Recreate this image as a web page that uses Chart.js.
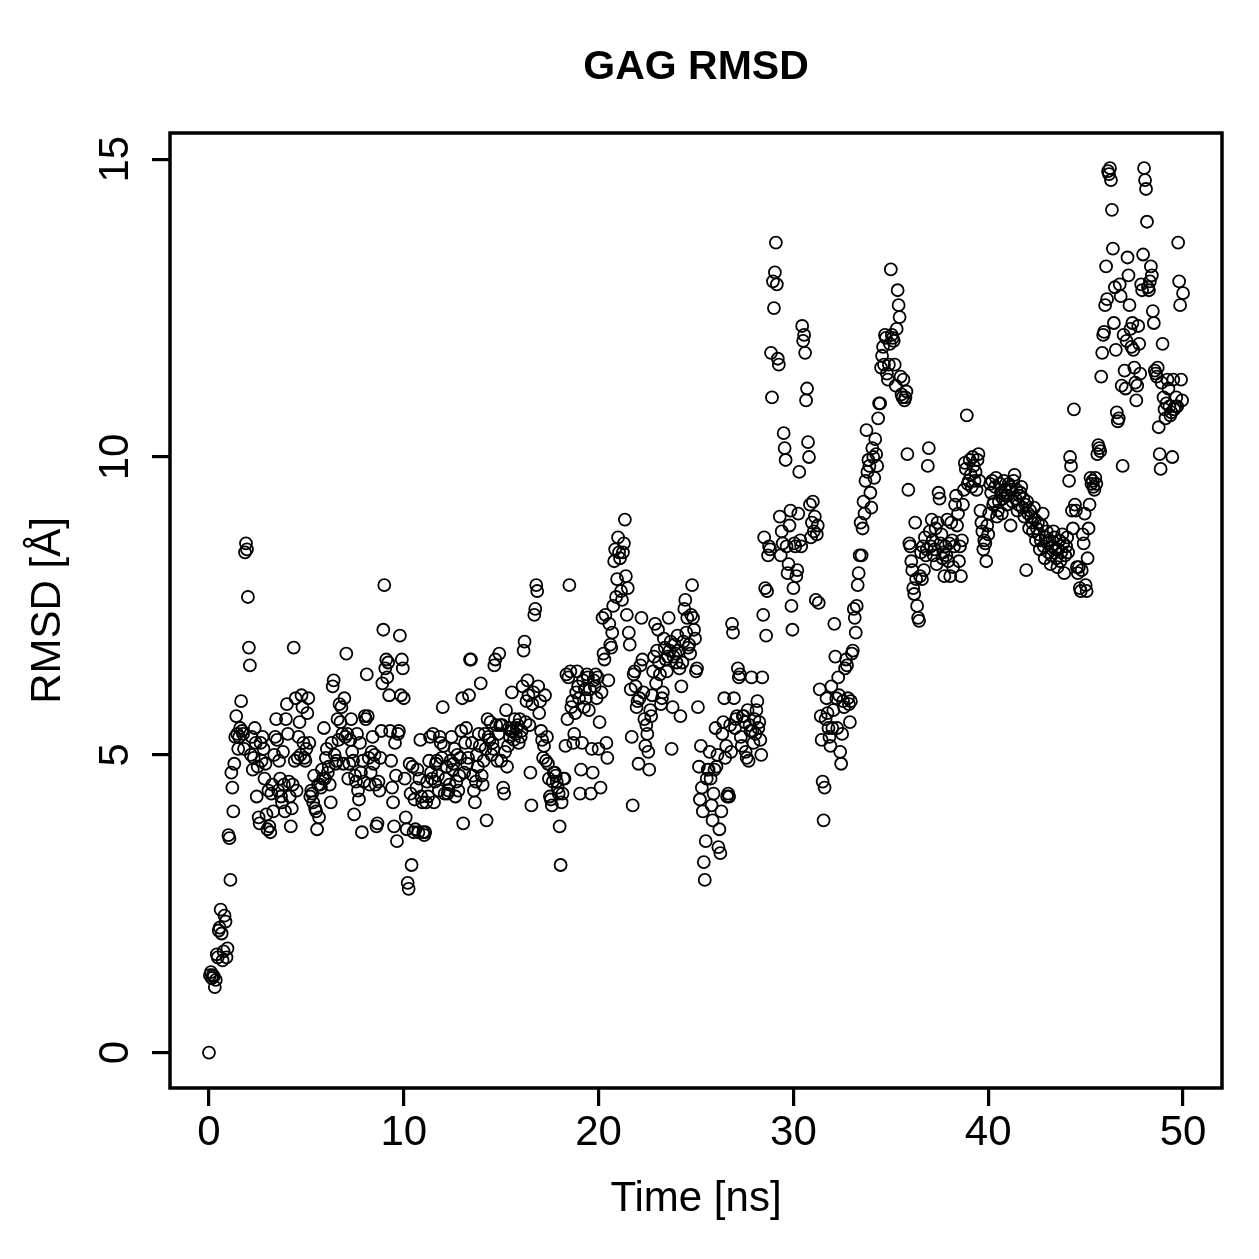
<!DOCTYPE html>
<html>
<head>
<meta charset="utf-8">
<script src="https://cdn.jsdelivr.net/npm/chart.js@4/dist/chart.umd.min.js"></script>
<style>
    html, body { margin: 0; padding: 0; background: #fff; }
    canvas { display: block; }
</style>
</head>
<body>
<canvas id="rmsdChart" width="1259" height="1259"></canvas>
<script>
// Datos: RMSD del GAG, un valor cada 0.05 ns (una fila = 1 ns)
const chartTitle = 'GAG RMSD';
const xLabel = 'Time [ns]';
const yLabel = 'RMSD [Å]';
const timeStart = 0;
const timeStep = 0.05;
const xTicks = [0, 10, 20, 30, 40, 50];
const yTicks = [0, 5, 10, 15];

const rmsd = [
    0, 1.3, 1.35, 1.25, 1.3, 1.28, 1.1, 1.22, 1.65, 1.6, 2.05, 2.1, 2.4, 2.0, 1.55, 1.7, 2.3, 2.2, 1.6, 1.75,
    3.65, 3.6, 2.9, 4.7, 4.45, 4.05, 4.85, 5.3, 5.65, 5.35, 5.1, 5.3, 5.45, 5.9, 5.4, 5.35, 5.1, 8.4, 8.55, 8.45,
    7.65, 6.8, 6.5, 5.0, 5.3, 4.75, 4.95, 5.45, 5.2, 4.3, 4.8, 3.95, 3.85, 5.2, 4.9, 5.3, 5.1, 4.6, 4.85, 4.0,
    3.75, 4.4, 3.8, 3.7, 4.35, 4.5, 4.05, 5.0, 5.3, 5.6, 5.25, 4.4, 4.9, 4.6, 4.3, 4.2, 5.05, 4.5, 4.05, 5.6,
    5.85, 5.35, 4.55, 4.3, 3.8, 4.1, 4.5, 6.8, 4.9, 5.95, 4.4, 4.95, 5.3, 5.55, 5.0, 6.0, 5.8, 5.2, 4.95, 4.9,
    5.1, 5.7, 5.95, 5.2, 4.3, 4.4, 4.35, 4.2, 4.65, 4.1, 4.05, 3.75, 4.5, 3.95, 4.5, 4.45, 4.75, 4.6, 5.45, 4.6,
    4.95, 5.1, 4.7, 4.8, 4.5, 4.2, 5.2, 6.15, 6.25, 5.0, 4.85, 4.9, 5.6, 5.25, 5.85, 5.55, 5.8, 5.35, 4.85, 5.95,
    5.3, 6.7, 5.35, 4.6, 4.85, 5.25, 5.6, 5.05, 4.9, 4.0, 4.65, 4.55, 5.35, 4.4, 4.25, 5.2, 4.7, 3.7, 4.9, 4.55,
    5.65, 5.6, 6.35, 5.65, 4.95, 4.5, 4.7, 5.05, 5.3, 4.85, 5.0, 4.5, 3.8, 3.85, 4.55, 4.4, 4.95, 5.4, 6.2, 7.1,
    7.85, 6.45, 6.6, 6.3, 6.55, 6.0, 5.4, 4.9, 4.45, 4.2, 3.8, 5.2, 4.65, 3.55, 5.35, 5.4, 7.0, 6.0, 6.6, 6.45,
    5.95, 4.6, 3.95, 3.75, 2.85, 2.75, 4.85, 4.35, 3.15, 4.8, 3.7, 4.25, 3.75, 4.45, 4.75, 3.7, 4.6, 5.25, 4.3, 4.2,
    3.7, 3.65, 3.7, 4.2, 4.55, 4.3, 4.9, 5.3, 4.7, 4.6, 5.35, 4.2, 4.55, 4.85, 4.9, 4.65, 4.4, 5.3, 5.2, 4.95,
    5.8, 5.15, 4.35, 4.6, 4.8, 4.35, 4.4, 4.5, 4.9, 5.3, 4.75, 4.85, 5.1, 4.3, 4.55, 5.0, 4.4, 4.65, 4.95, 5.4,
    5.95, 3.85, 4.7, 5.2, 5.45, 4.85, 4.95, 6.0, 6.6, 6.6, 5.2, 4.65, 4.4, 4.2, 4.55, 5.0, 4.8, 5.35, 5.15, 6.2,
    4.65, 4.5, 4.9, 5.35, 5.1, 3.9, 5.6, 5.3, 5.25, 5.55, 5.0, 5.2, 5.1, 6.5, 6.6, 5.5, 4.9, 5.35, 6.7, 5.5,
    4.9, 5.5, 4.45, 4.35, 5.05, 5.75, 4.8, 5.15, 5.45, 5.3, 5.4, 6.05, 5.4, 5.25, 5.6, 5.35, 5.45, 5.5, 5.2, 5.6,
    5.3, 5.4, 6.15, 6.75, 6.9, 5.55, 5.9, 6.25, 6.0, 5.5, 4.7, 4.15, 5.85, 6.05, 7.35, 7.45, 7.85, 7.75, 6.15, 5.7,
    5.9, 5.4, 5.25, 4.95, 5.15, 6.0, 4.9, 5.3, 4.85, 4.6, 4.3, 4.25, 4.15, 4.55, 4.7, 4.7, 4.65, 4.55, 4.45, 4.35,
    3.8, 3.15, 4.2, 4.35, 4.6, 4.6, 5.15, 6.35, 5.6, 6.3, 7.85, 6.4, 5.8, 5.9, 5.2, 5.35, 5.7, 6.05, 6.4, 6.15,
    5.95, 4.35, 4.75, 5.2, 6.25, 5.8, 6.1, 5.95, 6.35, 6.3, 5.75, 6.1, 4.35, 5.1, 4.7, 6.25, 6.15, 6.35, 5.95, 6.3,
    5.1, 5.55, 4.45, 6.05, 7.3, 6.7, 6.6, 7.35, 5.2, 4.95, 6.25, 7.2, 6.85, 6.8, 7.05, 7.5, 8.25, 8.45, 7.65, 7.95,
    8.65, 8.4, 8.3, 7.75, 7.6, 8.4, 8.55, 8.95, 8.0, 7.35, 7.8, 7.05, 6.85, 6.1, 5.3, 4.15, 6.35, 6.4, 6.15, 5.8,
    5.9, 4.85, 5.95, 6.5, 7.3, 6.6, 6.05, 5.6, 5.15, 5.5, 5.35, 5.05, 4.75, 5.75, 5.65, 6.0, 6.4, 6.65, 7.2, 6.2,
    6.75, 7.1, 6.55, 6.35, 5.85, 5.95, 6.05, 6.95, 6.8, 6.6, 6.4, 6.65, 7.3, 6.75, 6.9, 5.1, 5.8, 6.65, 6.85, 6.7,
    6.55, 7.0, 6.75, 6.45, 5.65, 6.15, 6.55, 6.9, 7.45, 7.6, 7.05, 7.3, 6.8, 6.85, 6.7, 7.35, 7.85, 7.3, 7.1, 6.95,
    6.4, 6.45, 5.8, 4.8, 4.25, 5.15, 4.45, 4.05, 3.2, 2.9, 3.55, 4.6, 4.75, 4.75, 5.05, 4.6, 4.15, 3.9, 4.35, 4.75,
    5.45, 4.8, 5.0, 3.45, 3.75, 3.35, 4.05, 5.35, 5.55, 5.95, 4.95, 5.15, 4.3, 4.35, 4.3, 5.5, 5.05, 7.2, 7.05, 5.95,
    5.45, 5.6, 5.65, 6.45, 6.3, 6.35, 5.3, 5.15, 5.65, 5.65, 5.55, 5.05, 4.95, 5.75, 4.9, 5.5, 5.4, 6.3, 5.4, 5.2,
    5.6, 5.35, 5.75, 5.9, 5.45, 5.55, 5.25, 5.0, 6.3, 7.35, 8.65, 7.8, 7.0, 7.75, 8.35, 8.5, 8.45, 11.75, 11.0, 12.95,
    12.5, 13.1, 13.6, 12.9, 11.65, 11.55, 9.0, 8.35, 8.75, 8.55, 10.4, 10.15, 9.95, 8.5, 8.05, 8.2, 8.85, 9.1, 7.5, 7.1,
    7.8, 8.55, 8.5, 8.0, 8.1, 9.05, 9.75, 8.6, 8.5, 12.2, 11.95, 12.05, 11.75, 10.95, 11.15, 10.25, 10.0, 9.2, 8.65, 8.9,
    9.25, 8.75, 9.0, 7.6, 8.7, 8.85, 7.55, 6.1, 5.65, 5.25, 4.55, 3.9, 4.45, 5.6, 5.95, 5.7, 5.45, 5.3, 5.15, 6.15,
    5.45, 5.75, 7.2, 6.65, 5.95, 5.45, 6.3, 6.0, 5.05, 4.85, 5.35, 5.9, 5.8, 6.45, 6.6, 6.5, 5.95, 5.85, 5.55, 5.9,
    6.7, 6.75, 7.45, 7.3, 7.05, 7.5, 7.85, 8.05, 8.35, 8.9, 8.35, 8.8, 9.25, 9.05, 9.6, 10.45, 9.75, 9.95, 9.85, 9.4,
    9.15, 10.15, 10.0, 9.65, 10.3, 10.05, 9.85, 10.65, 10.9, 10.9, 11.5, 11.7, 11.85, 11.55, 12.05, 12.0, 11.4, 11.3, 11.55, 11.9,
    13.15, 12.05, 12.0, 11.95, 11.55, 11.2, 12.15, 12.8, 12.55, 12.35, 11.35, 11.05, 11.0, 11.3, 10.95, 11.0, 11.1, 10.05, 9.45, 8.55,
    8.5, 8.25, 8.1, 7.8, 7.7, 8.9, 7.95, 7.5, 7.3, 7.25, 8.0, 8.4, 7.95, 8.5, 8.1, 8.65, 8.35, 8.45, 9.85, 10.15,
    8.75, 8.5, 8.95, 8.6, 8.35, 8.45, 8.8, 8.2, 8.9, 9.4, 9.3, 8.55, 8.7, 8.3, 8.4, 8.0, 8.5, 8.35, 8.95, 8.25,
    8.55, 8.0, 8.9, 8.6, 8.15, 8.5, 9.2, 9.35, 8.85, 9.05, 8.25, 8.5, 8.0, 8.6, 9.2, 9.45, 9.9, 9.8, 10.7, 9.55,
    9.6, 9.95, 9.7, 9.5, 10.0, 9.85, 9.6, 9.75, 9.45, 9.95, 10.05, 9.6, 9.1, 8.9, 8.75, 8.45, 8.6, 8.55, 8.25, 8.85,
    8.7, 9.05, 9.55, 9.4, 9.6, 9.2, 9.25, 9.5, 9.65, 9.0, 9.1, 9.25, 9.55, 9.4, 9.05, 9.3, 9.6, 9.45, 9.35, 9.2,
    9.35, 9.55, 9.5, 8.85, 9.45, 9.25, 9.6, 9.7, 9.3, 9.45, 9.1, 9.2, 9.35, 9.4, 9.5, 9.15, 9.3, 9.0, 9.2, 8.1,
    9.25, 9.05, 8.8, 9.1, 9.0, 8.9, 8.75, 9.15, 8.95, 8.6, 8.8, 8.9, 8.7, 8.45, 8.6, 8.85, 9.05, 8.5, 8.3, 8.65,
    8.75, 8.55, 8.4, 8.6, 8.2, 8.35, 8.5, 8.75, 8.65, 8.45, 8.3, 8.15, 8.45, 8.6, 8.25, 8.4, 8.7, 8.55, 8.05, 8.35,
    8.5, 8.65, 8.4, 9.6, 10.0, 9.85, 9.1, 8.8, 10.8, 9.2, 9.1, 8.15, 8.05, 8.15, 7.8, 7.75, 8.1, 8.7, 8.55, 9.05,
    7.85, 7.75, 8.3, 8.8, 9.2, 9.65, 9.55, 9.6, 9.5, 9.45, 9.65, 9.55, 10.05, 10.2, 10.15, 10.1, 11.35, 11.75, 12.05, 12.1,
    12.55, 13.2, 12.65, 14.8, 14.75, 14.85, 14.65, 14.15, 13.5, 12.25, 12.85, 11.8, 10.75, 10.6, 10.65, 12.9, 12.7, 11.2, 9.85, 12.05,
    11.45, 11.15, 11.95, 13.35, 13.05, 12.55, 12.15, 11.85, 12.25, 11.8, 11.5, 11.25, 10.95, 11.2, 12.2, 11.9, 11.4, 12.9, 12.8, 13.4,
    14.85, 14.65, 14.5, 13.95, 12.85, 12.8, 12.95, 13.2, 13.05, 12.45, 12.25, 11.45, 11.4, 11.35, 11.5, 10.5, 10.05, 9.8, 11.25, 11.9,
    11.0, 10.8, 10.65, 10.9, 11.3, 11.15, 10.85, 10.7, 10.75, 10.0, 11.3, 10.8, 10.85, 11.0, 10.85, 13.6, 12.95, 12.55, 11.3, 10.95,
    12.75
];

// Puntos (tiempo, rmsd)
const points = rmsd.map((v, i) => ({ x: timeStart + i * timeStep, y: v }));

const FONT = "'Liberation Sans', Arial, Helvetica, sans-serif";

// Rango estilo R: datos +/- 4%
const xMin = -2, xMax = 52;
const yMin = -0.594, yMax = 15.44;

// Caja, título y etiquetas del eje Y giradas
const rStylePlugin = {
    id: 'rStyle',
    afterDraw(chart) {
        const { ctx, chartArea } = chart;
        const yScale = chart.scales.y;
        ctx.save();
        ctx.strokeStyle = '#000';
        ctx.lineWidth = 3.5;
        ctx.strokeRect(chartArea.left, chartArea.top, chartArea.right - chartArea.left, chartArea.bottom - chartArea.top);

        ctx.fillStyle = '#000';
        ctx.textAlign = 'center';
        ctx.textBaseline = 'middle';
        ctx.font = `bold 41px ${FONT}`;
        ctx.fillText(chartTitle, (chartArea.left + chartArea.right) / 2, 68);

        ctx.font = `42px ${FONT}`;
        yTicks.forEach(v => {
            const py = yScale.getPixelForValue(v);
            ctx.save();
            ctx.translate(116, py);
            ctx.rotate(-Math.PI / 2);
            ctx.fillText(String(v), 0, 0);
            ctx.restore();
        });
        ctx.restore();
    }
};

new Chart(document.getElementById('rmsdChart'), {
    type: 'scatter',
    data: {
        datasets: [{
            data: points,
            pointStyle: 'circle',
            pointRadius: 6,
            pointBorderWidth: 1.8,
            borderColor: '#000',
            backgroundColor: 'rgba(0,0,0,0)',
            pointHoverRadius: 6
        }]
    },
    options: {
        responsive: false,
        animation: false,
        devicePixelRatio: 1,
        layout: { padding: { top: 133, right: 37, left: 0, bottom: 0 } },
        plugins: {
            legend: { display: false },
            title: { display: false },
            tooltip: { enabled: false }
        },
        scales: {
            x: {
                type: 'linear',
                min: xMin,
                max: xMax,
                afterFit(scale) { scale.height = 171; },
                afterBuildTicks(scale) { scale.ticks = xTicks.map(v => ({ value: v })); },
                border: { display: false },
                grid: { drawOnChartArea: false, drawTicks: true, tickLength: 18, lineWidth: 3.2, color: '#000' },
                ticks: { color: '#000', font: { family: FONT, size: 42 }, padding: 2, maxRotation: 0 },
                title: { display: true, text: xLabel, color: '#000', font: { family: FONT, size: 42 }, padding: { top: 34, bottom: 34 } }
            },
            y: {
                type: 'linear',
                min: yMin,
                max: yMax,
                afterFit(scale) { scale.width = 170; },
                afterBuildTicks(scale) { scale.ticks = yTicks.map(v => ({ value: v })); },
                border: { display: false },
                grid: { drawOnChartArea: false, drawTicks: true, tickLength: 18, lineWidth: 3.2, color: '#000' },
                ticks: { display: false },
                title: { display: true, text: yLabel, color: '#000', font: { family: FONT, size: 42 }, padding: { top: 23, bottom: 23 } }
            }
        }
    },
    plugins: [rStylePlugin]
});
</script>
</body>
</html>
